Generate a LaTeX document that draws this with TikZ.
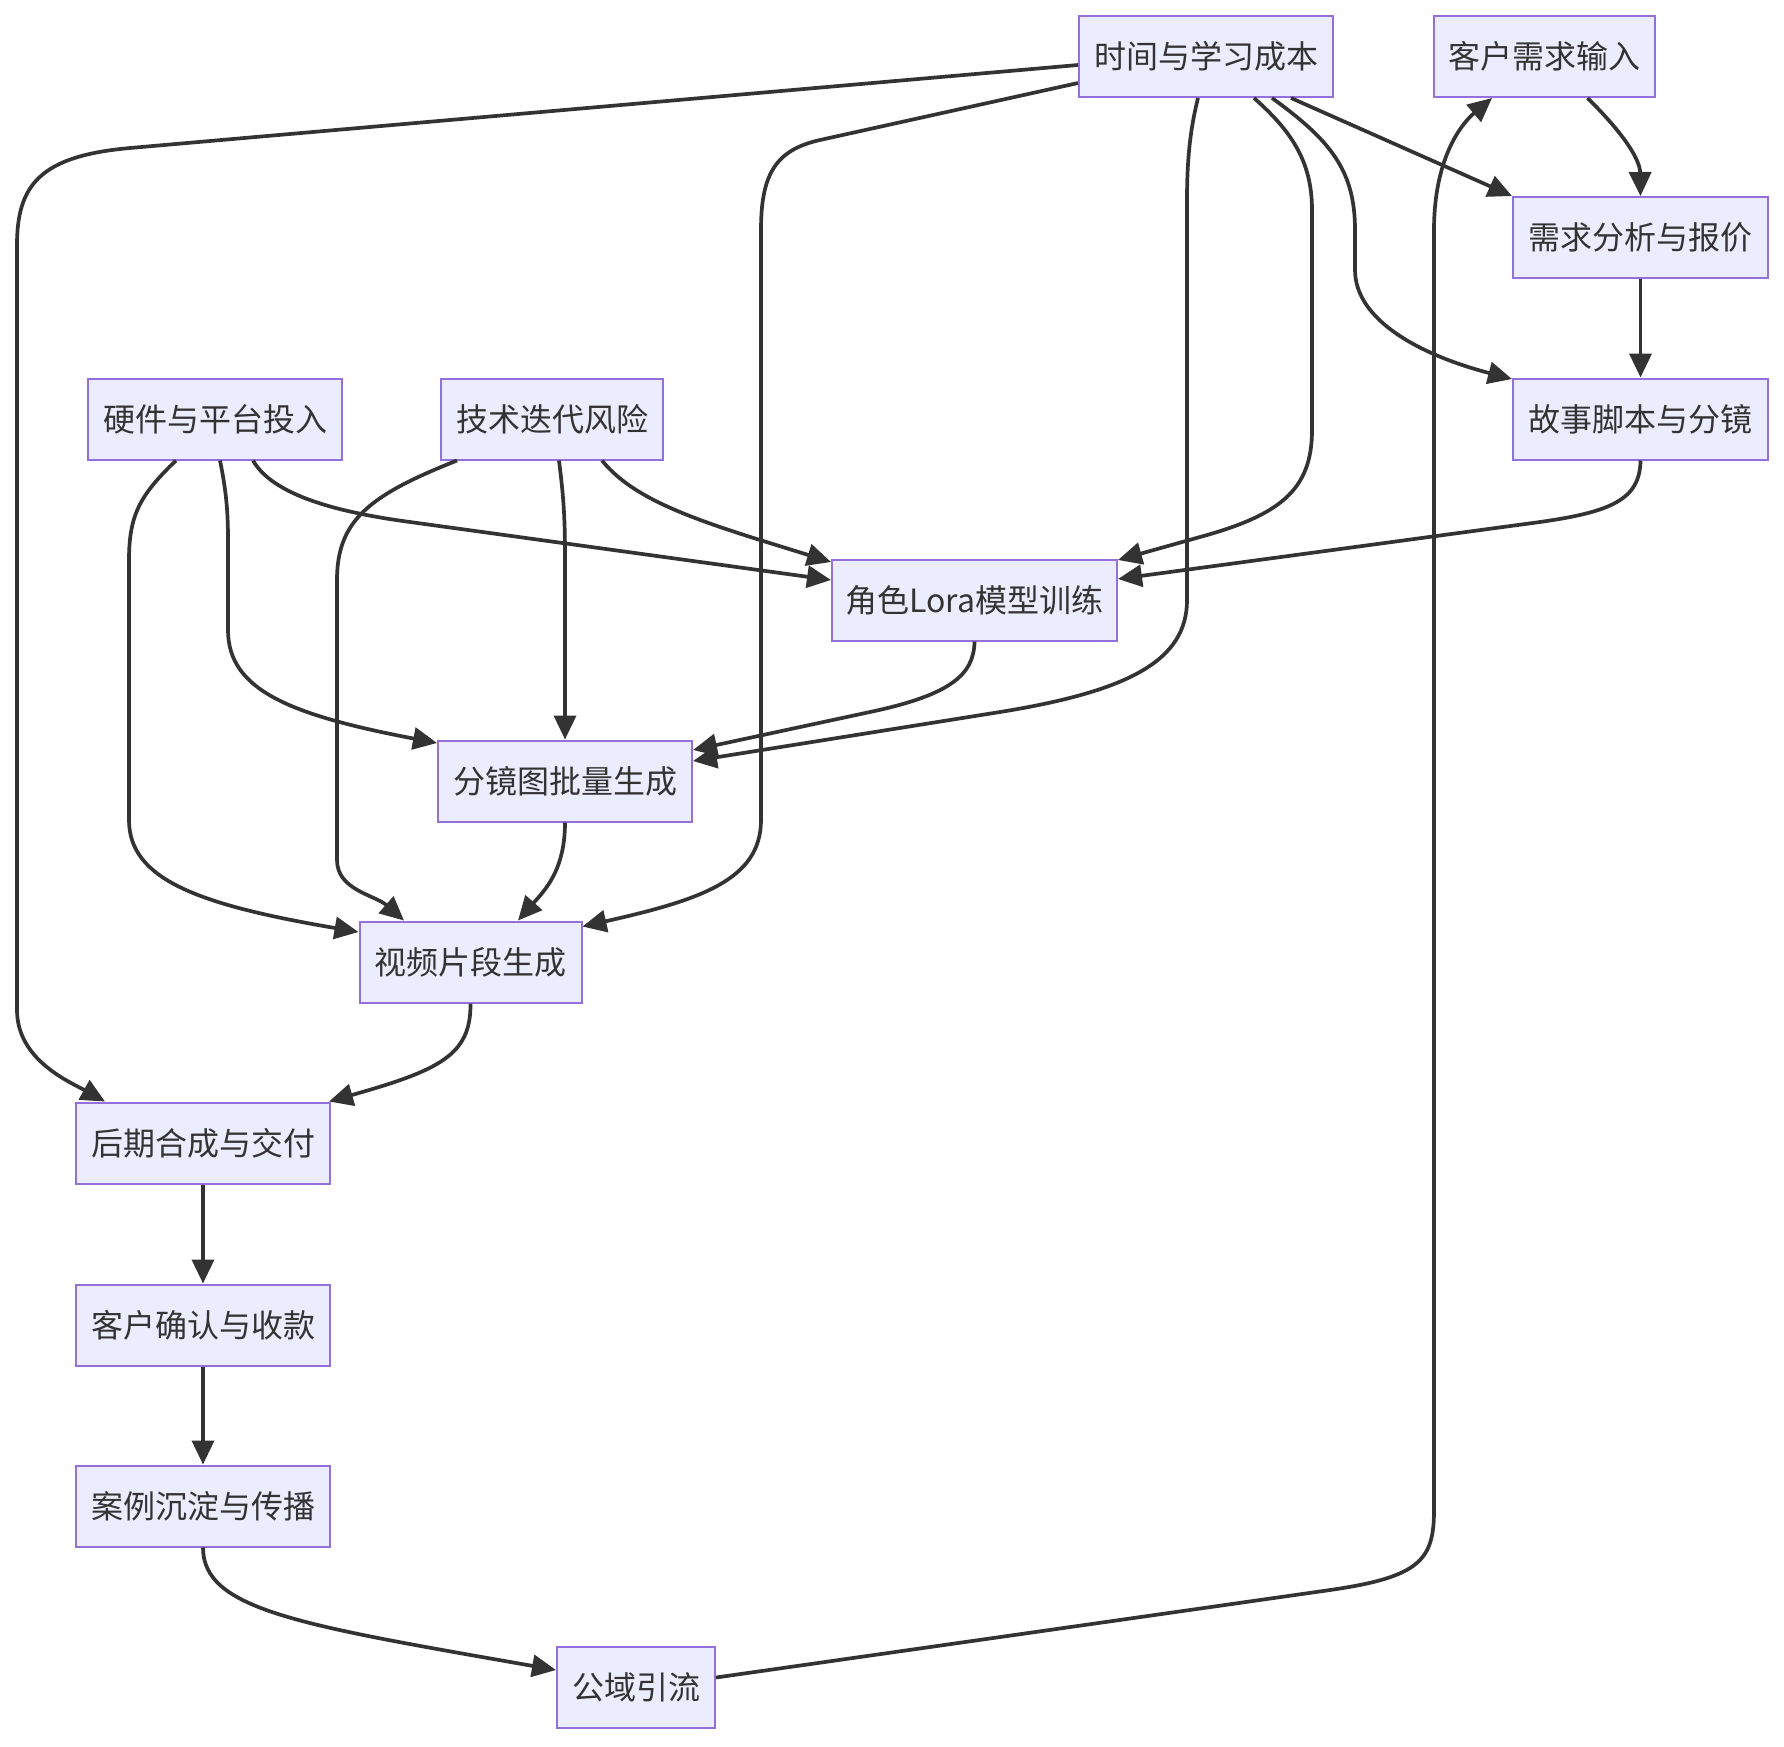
\documentclass[tikz,border=0pt]{standalone}
\usepackage{fontspec}
\newfontfamily\cjk{Noto Sans CJK SC}
\usetikzlibrary{arrows.meta}
\definecolor{nodefill}{HTML}{ECECFF}
\definecolor{nodeline}{HTML}{9370DB}
\definecolor{edgecol}{HTML}{333333}
\begin{document}
\begin{tikzpicture}[x=1pt,y=-1pt,
  box/.style={draw=nodeline, fill=nodefill, line width=2pt, minimum height=81pt,
    inner sep=0pt, font=\cjk\fontsize{32}{38}\selectfont, text=edgecol},
  edge/.style={draw=edgecol, line width=3.7pt, line join=round,
    -{Triangle[length=24pt,width=22pt]}}]
\fill[white] (0,0) rectangle (1784,1746);
\useasboundingbox (0,0) rectangle (1784,1746);

\node[box, minimum width=254pt] (T) at (1206,56.5) {时间与学习成本};
\node[box, minimum width=221pt] (K) at (1544.5,56.5) {客户需求输入};
\node[box, minimum width=255pt] (A) at (1640.5,237.5) {需求分析与报价};
\node[box, minimum width=255pt] (S) at (1640.5,419) {故事脚本与分镜};
\node[box, minimum width=254pt] (H) at (215,419) {硬件与平台投入};
\node[box, minimum width=222pt] (R) at (552,419) {技术迭代风险};
\node[box, minimum width=285pt] (L) at (974.5,600) {角色Lora模型训练};
\node[box, minimum width=254pt] (F) at (565,781) {分镜图批量生成};
\node[box, minimum width=222pt] (V) at (470.5,962) {视频片段生成};
\node[box, minimum width=254pt] (P) at (203,1143) {后期合成与交付};
\node[box, minimum width=254pt] (C) at (203,1325) {客户确认与收款};
\node[box, minimum width=254pt] (E) at (203,1506) {案例沉淀与传播};
\node[box, minimum width=158pt] (G) at (636,1687.5) {公域引流};

% T -> P
\draw[edge] ([yshift=-8.5pt]T.west) -- (130,148) .. controls (40,156) and (17,185) .. (17,245)
  -- (17,1010) .. controls (17,1060) and (70,1082) .. ([xshift=-98pt]P.north);
% T -> V
\draw[edge] ([yshift=-26.5pt]T.west) -- (820,140) .. controls (775,150) and (761,175) .. (761,230)
  -- (761,820) .. controls (761,880) and (700,900) .. ([yshift=-6pt]V.north east);
% T -> F
\draw[edge] ([xshift=-8pt]T.south) .. controls (1190,130) and (1187,160) .. (1187,200)
  -- (1187,600) .. controls (1187,660) and (1130,691) .. (1000,712) -- ([yshift=20pt]F.east);
% T -> L
\draw[edge] ([xshift=48pt]T.south) .. controls (1290,130) and (1312,160) .. (1312,210)
  -- (1312,430) .. controls (1312,490) and (1280,515) .. (1200,537) -- ([yshift=40pt]L.east);
% T -> S
\draw[edge] ([xshift=66pt]T.south) .. controls (1330,140) and (1355,170) .. (1355,230)
  -- (1355,270) .. controls (1355,320) and (1420,355) .. ([yshift=40pt]S.west);
% T -> A
\draw[edge] ([xshift=85pt]T.south) -- (A.north west);
% K -> A
\draw[edge] ([xshift=43pt]K.south) .. controls (1625,135) and (1640,160) .. (A.north);
% A -> S
\draw[edge] (A.south) -- (S.north);
% S -> L
\draw[edge] (S.south) .. controls (1640,500) and (1610,512) .. (1540,522) -- ([yshift=21pt]L.east);
% H -> L
\draw[edge] ([xshift=38pt]H.south) .. controls (270,490) and (320,510) .. (410,522) -- ([yshift=20pt]L.west);
% H -> F
\draw[edge] ([xshift=5pt]H.south) .. controls (226,490) and (228,510) .. (228,540)
  -- (228,630) .. controls (228,690) and (290,715) .. ([yshift=38pt]F.west);
% H -> V
\draw[edge] ([xshift=-39pt]H.south) .. controls (140,495) and (129,515) .. (129,560)
  -- (129,820) .. controls (129,880) and (200,905) .. ([yshift=30pt]V.west);
% R -> L
\draw[edge] ([xshift=50pt]R.south) .. controls (630,495) and (680,515) .. (760,540) -- ([yshift=38pt]L.west);
% R -> F
\draw[edge] ([xshift=7pt]R.south) .. controls (564,500) and (565,520) .. (565,560) -- (F.north);
% R -> V
\draw[edge] ([xshift=-95pt]R.south) .. controls (370,495) and (337,520) .. (337,580)
  -- (337,860) .. controls (337,890) and (375,895) .. ([xshift=-66.5pt]V.north);
% L -> F
\draw[edge] (L.south) .. controls (974,675) and (950,695) .. (870,712) -- ([yshift=31pt]F.east);
% F -> V
\draw[edge] (F.south) .. controls (565,870) and (545,890) .. ([xshift=47.5pt]V.north);
% V -> P
\draw[edge] (V.south) .. controls (471,1055) and (440,1070) .. ([xshift=-2pt]P.north east);
% P -> C -> E
\draw[edge] (P.south) -- (C.north);
\draw[edge] (C.south) -- (E.north);
% E -> G
\draw[edge] (E.south) .. controls (203,1610) and (300,1625) .. ([yshift=17.5pt]G.west);
% G -> K
\draw[edge] ([yshift=10pt]G.east) -- (1330,1590) .. controls (1420,1577) and (1434,1560) .. (1434,1510)
  -- (1434,230) .. controls (1434,160) and (1460,125) .. ([xshift=-52.5pt]K.south);
\end{tikzpicture}
\end{document}
